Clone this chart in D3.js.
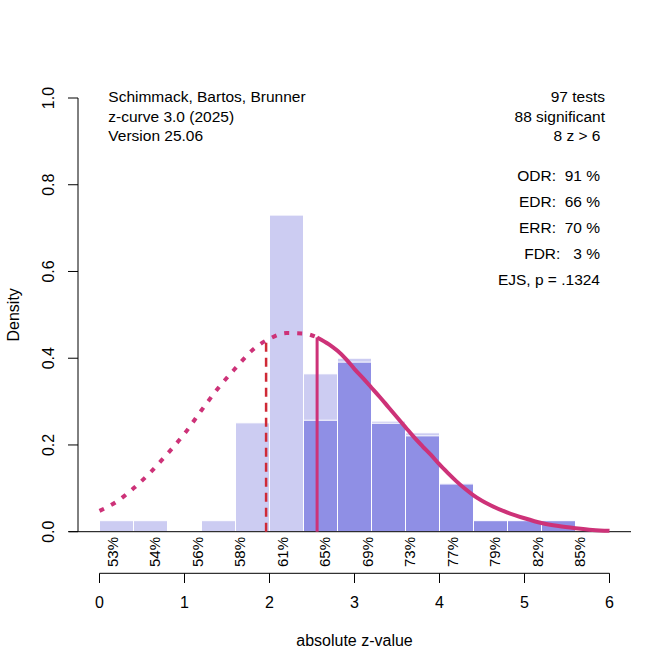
<!DOCTYPE html>
<html>
<head>
<meta charset="utf-8">
<script src="https://cdn.jsdelivr.net/npm/d3@7"></script>
<style>
  body { margin: 0; background: #fff; }
  text { font-family: "Liberation Sans", Arial, sans-serif; fill: #000; white-space: pre; }
</style>
</head>
<body>
<div class="chart"></div>
<script>
// z-curve plot: histogram of absolute z-values with fitted density

var w = 672, h = 671;

// histogram bins (lower edges, width 0.4)
var binLo = [0.0, 0.4, 0.8, 1.2, 1.6, 2.0, 2.4, 2.8, 3.2, 3.6, 4.0, 4.4, 4.8, 5.2, 5.6];
var binWidth = 0.4;
var allDensity = [0.0254, 0.0254, 0, 0.0254, 0.251, 0.730, 0.364, 0.400, 0.255, 0.228, 0.112, 0, 0, 0, 0];
var sigDensity = [0, 0, 0, 0, 0, 0, 0.257, 0.391, 0.250, 0.221, 0.110, 0.0254, 0.0254, 0.0254, 0];

// fitted curve, dotted part (below cut-off) and solid part
var dotZ = [0.0, 0.2, 0.4, 0.6, 0.8, 1.0, 1.2, 1.4, 1.6, 1.8, 2.0, 2.2, 2.4, 2.56];
var dotD = [0.048, 0.069, 0.100, 0.137, 0.180, 0.226, 0.280, 0.332, 0.377, 0.419, 0.445, 0.458, 0.457, 0.448];
var solZ = [2.56, 2.7, 2.8, 2.9, 3.0, 3.1, 3.2, 3.3, 3.4, 3.5, 3.6, 3.7, 3.8, 3.9, 4.0, 4.1, 4.2, 4.3, 4.4, 4.6, 4.8, 5.0, 5.2, 5.4, 5.6, 5.8, 6.0];
var solD = [0.448, 0.432, 0.417, 0.398, 0.375, 0.354, 0.332, 0.310, 0.287, 0.264, 0.241, 0.218, 0.197, 0.177, 0.155, 0.135, 0.116, 0.099, 0.084, 0.061, 0.044, 0.031, 0.020, 0.013, 0.008, 0.004, 0.002];

// vertical markers: significance criterion (dashed) and curve start (solid)
var critZ = 1.96, critTop = 0.448;
var startZ = 2.56, startTop = 0.448;

// power labels under the histogram
var pctZ = [0.25, 0.75, 1.25, 1.75, 2.25, 2.75, 3.25, 3.75, 4.25, 4.75, 5.25, 5.75];
var pctLabels = ["53%", "54%", "56%", "58%", "61%", "65%", "69%", "73%", "77%", "79%", "82%", "85%"];

var xTicks = [0, 1, 2, 3, 4, 5, 6];
var yTicks = [0, 0.2, 0.4, 0.6, 0.8, 1.0];

var infoLeft = ["Schimmack, Bartos, Brunner", "z-curve 3.0 (2025)", "Version 25.06"];
var infoTop = ["97 tests", "88 significant"];
var infoZ = "8 z > 6";
var stats = ["ODR:  91 %", "EDR:  66 %", "ERR:  70 %", "FDR:   3 %", "EJS, p = .1324"];

var curveCol = "#cd3278",
	critCol = "#cf2a36",
	lightCol = "#ccccf2",
	darkCol = "#8f8fe5";

var x = d3.scaleLinear().domain([0, 6]).range([99.5, 609.5]);
var y = d3.scaleLinear().domain([0, 1]).range([531.7, 98]);

var svg = d3.select('.chart').append('svg')
	.attr('width', w)
	.attr('height', h);

// light histogram (all tests)
svg.append('g').selectAll('rect')
	.data(binLo.map(function(d, i) { return {lo: d, v: allDensity[i]}; }).filter(function(d) { return d.v > 0; }))
	.enter().append('rect')
	.attr('x', function(d) { return x(d.lo); })
	.attr('width', function(d) { return x(d.lo + binWidth) - x(d.lo); })
	.attr('y', function(d) { return y(d.v); })
	.attr('height', function(d) { return y(0) - y(d.v); })
	.attr('fill', lightCol)
	.attr('stroke', '#fff')
	.attr('stroke-width', 1);

// dark histogram (significant tests)
svg.append('g').selectAll('rect')
	.data(binLo.map(function(d, i) { return {lo: d, v: sigDensity[i]}; }).filter(function(d) { return d.v > 0; }))
	.enter().append('rect')
	.attr('x', function(d) { return x(d.lo); })
	.attr('width', function(d) { return x(d.lo + binWidth) - x(d.lo); })
	.attr('y', function(d) { return y(d.v); })
	.attr('height', function(d) { return y(0) - y(d.v); })
	.attr('fill', darkCol)
	.attr('stroke', '#fff')
	.attr('stroke-width', 1);

// baseline
svg.append('line')
	.attr('x1', 69).attr('x2', 631)
	.attr('y1', y(0)).attr('y2', y(0))
	.attr('stroke', '#000').attr('stroke-width', 1);

// criterion line
svg.append('line')
	.attr('x1', x(critZ)).attr('x2', x(critZ))
	.attr('y1', y(0)).attr('y2', y(critTop))
	.attr('stroke', critCol).attr('stroke-width', 2.5)
	.attr('stroke-dasharray', '9,6');

var line = d3.line()
	.x(function(d) { return x(d[0]); })
	.y(function(d) { return y(d[1]); })
	.curve(d3.curveMonotoneX);

svg.append('path')
	.attr('d', line(dotZ.map(function(d, i) { return [d, dotD[i]]; })))
	.attr('fill', 'none')
	.attr('stroke', curveCol)
	.attr('stroke-width', 4)
	.attr('stroke-dasharray', '5,8');

svg.append('path')
	.attr('d', line(solZ.map(function(d, i) { return [d, solD[i]]; })))
	.attr('fill', 'none')
	.attr('stroke', curveCol)
	.attr('stroke-width', 4);

svg.append('line')
	.attr('x1', x(startZ)).attr('x2', x(startZ))
	.attr('y1', y(0)).attr('y2', y(startTop))
	.attr('stroke', curveCol).attr('stroke-width', 3);

// y axis
var ya = svg.append('g');
ya.append('line')
	.attr('x1', 78).attr('x2', 78)
	.attr('y1', y(0)).attr('y2', y(1))
	.attr('stroke', '#000');
ya.selectAll('.yt').data(yTicks).enter().append('line')
	.attr('x1', 68).attr('x2', 78)
	.attr('y1', function(d) { return y(d); }).attr('y2', function(d) { return y(d); })
	.attr('stroke', '#000');
ya.selectAll('text').data(yTicks).enter().append('text')
	.attr('transform', function(d) { return 'translate(53.5,' + y(d) + ') rotate(-90)'; })
	.attr('text-anchor', 'middle')
	.style('font-size', '16px')
	.text(function(d) { return d.toFixed(1); });

svg.append('text')
	.attr('transform', 'translate(19,' + y(0.5) + ') rotate(-90)')
	.attr('text-anchor', 'middle')
	.style('font-size', '16px')
	.text('Density');

// x axis
var xa = svg.append('g');
xa.append('line')
	.attr('x1', x(0)).attr('x2', x(6))
	.attr('y1', 573.3).attr('y2', 573.3)
	.attr('stroke', '#000');
xa.selectAll('.xt').data(xTicks).enter().append('line')
	.attr('x1', function(d) { return x(d); }).attr('x2', function(d) { return x(d); })
	.attr('y1', 573.3).attr('y2', 583)
	.attr('stroke', '#000');
xa.selectAll('text').data(xTicks).enter().append('text')
	.attr('x', function(d) { return x(d); })
	.attr('y', 608)
	.attr('text-anchor', 'middle')
	.style('font-size', '16px')
	.text(function(d) { return d; });

svg.append('text')
	.attr('x', x(3)).attr('y', 646)
	.attr('text-anchor', 'middle')
	.style('font-size', '16px')
	.text('absolute z-value');

// percent labels
svg.append('g').selectAll('text')
	.data(pctZ)
	.enter().append('text')
	.attr('transform', function(d) { return 'translate(' + (x(d) - 3) + ',537) rotate(-90)'; })
	.attr('text-anchor', 'end')
	.style('font-size', '15px')
	.text(function(d, i) { return pctLabels[i]; });

// annotations
svg.append('g').selectAll('text')
	.data(infoLeft)
	.enter().append('text')
	.attr('x', 108.3)
	.attr('y', function(d, i) { return 102.3 + i * 19.5; })
	.style('font-size', '15.5px')
	.text(function(d) { return d; });

svg.append('g').selectAll('text')
	.data(infoTop)
	.enter().append('text')
	.attr('x', 605)
	.attr('y', function(d, i) { return 102 + i * 19.5; })
	.attr('text-anchor', 'end')
	.style('font-size', '15.5px')
	.text(function(d) { return d; });

svg.append('text')
	.attr('x', 600.5).attr('y', 141)
	.attr('text-anchor', 'end')
	.style('font-size', '15.5px')
	.text(infoZ);

svg.append('g').selectAll('text')
	.data(stats)
	.enter().append('text')
	.attr('x', 600)
	.attr('y', function(d, i) { return 181 + i * 26; })
	.attr('text-anchor', 'end')
	.style('font-size', '15.5px')
	.text(function(d) { return d; });
</script>
</body>
</html>
